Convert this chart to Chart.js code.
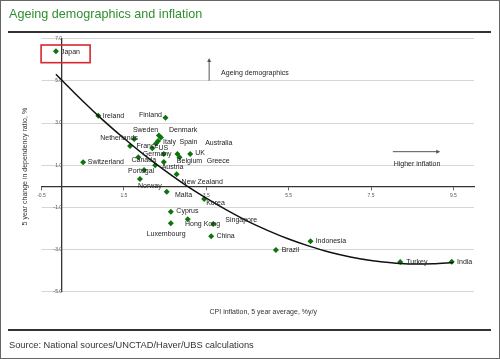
<!DOCTYPE html>
<html><head><meta charset="utf-8">
<script src="https://cdn.jsdelivr.net/npm/chart.js@4.4.1/dist/chart.umd.min.js"></script>
<style>
html,body{margin:0;padding:0;background:#fff;}
#wrap{position:relative;width:500px;height:359px;overflow:hidden;font-family:"Liberation Sans",Arial,sans-serif;}
#c{position:absolute;left:0;top:0;}
#title{position:absolute;left:9px;top:7.6px;font-size:12.6px;line-height:12.6px;color:#2f8f2f;white-space:nowrap;}
.rule{position:absolute;left:8px;width:483px;height:2px;background:#333;}
#source{position:absolute;left:9px;top:340.5px;font-size:9.3px;line-height:9.3px;color:#333;white-space:nowrap;}
#frame{position:absolute;left:0;top:0;width:500px;height:359px;box-sizing:border-box;border:1px solid #666;pointer-events:none;}
</style></head>
<body>
<div id="wrap">
<canvas id="c" width="500" height="359"></canvas>
<div id="title">Ageing demographics and inflation</div>
<div class="rule" style="top:30.7px"></div>
<div class="rule" style="top:328.7px"></div>
<div id="source">Source: National sources/UNCTAD/Haver/UBS calculations</div>
<div id="frame"></div>
</div>
<script>
// ---- data ----
const countries = ["Japan","Ireland","Finland","Sweden","Denmark","Italy","Spain","Netherlands","France","US",
  "Germany","Canada","Austria","Belgium","Australia","UK","Greece","Switzerland","Portugal","Norway",
  "New Zealand","Malta","Korea","Cyprus","Hong Kong","Luxembourg","Singapore","China","Brazil","Indonesia","Turkey","India"];
const cpiInflation = [-0.15,0.88,2.51,2.35,2.40,2.33,2.28,1.75,1.65,2.19,
  2.47,1.85,2.26,2.47,2.80,3.11,2.85,0.51,1.99,1.89,
  2.78,2.54,3.45,2.64,3.05,2.64,3.67,3.62,5.19,6.03,8.21,9.46];
const dependencyChange = [6.41,3.35,3.25,2.41,2.31,2.15,2.03,2.24,1.91,1.80,
  1.53,1.37,0.99,1.15,1.53,1.53,1.37,1.14,0.77,0.34,
  0.57,-0.26,-0.61,-1.21,-1.57,-1.76,-1.80,-2.38,-3.03,-2.62,-3.60,-3.59];
const trendX = [-0.15,0.5,1,1.5,2,2.5,3,3.5,4,4.5,5,5.5,6,6.5,7,7.5,8,8.5,9,9.5];
const trendY = [5.32,4.05,3.13,2.28,1.48,0.74,0.05,-0.57,-1.14,-1.66,-2.11,-2.51,-2.85,-3.14,-3.36,-3.53,-3.64,-3.70,-3.69,-3.63];
const xTicks = [-0.5,1.5,3.5,5.5,7.5,9.5];
const yTicks = [-5,-3,-1,1,3,5,7];
const xTitle = "CPI inflation, 5 year average, %y/y";
const yTitle = "5 year change in dependency ratio, %";
const noteUp = "Ageing demographics";
const noteRight = "Higher inflation";

// ---- label placement (pixel offsets from marker) ----
const labelOffsets = [[5,0.7],[4.5,0.3],[-26.5,-2.7],[-26,-5.5],[8,-7.5],[5,0.7],[23.5,-1.8],[-34,-0.5],[6.5,0],[6.2,0.2],
  [-21,0],[-6.8,2.7],[6.5,2.2],[13,-0.5],[27.7,-10.5],[5,-0.5],[27.2,3.2],[4.7,-0.3],[-16,1],[-2,7.5],
  [5,8.3],[8.3,3.8],[2,4],[5.5,-0.2],[-2.7,4.7],[-24.2,10.7],[12,-4],[5.2,0.2],[5.8,0.5],[5.2,0],[6,0.3],[5.3,0.6]];

const FONT = '"Liberation Sans", Arial, sans-serif';

const extras = {
  id:'extras',
  afterDatasetsDraw(chart){
    const {ctx, chartArea:a, scales:{x,y}} = chart;
    ctx.save();
    // country labels
    ctx.font = '7px ' + FONT;
    ctx.fillStyle = '#222';
    ctx.textBaseline = 'middle';
    ctx.textAlign = 'left';
    const meta = chart.getDatasetMeta(1);
    meta.data.forEach((pt,i)=>{
      const o = labelOffsets[i];
      ctx.fillText(countries[i], pt.x + o[0], pt.y + o[1]);
    });
    // Japan red box
    ctx.strokeStyle = '#d8262e';
    ctx.lineWidth = 1.6;
    const bx1 = x.getPixelForValue(-0.51), bx2 = x.getPixelForValue(0.68);
    const by1 = y.getPixelForValue(6.71), by2 = y.getPixelForValue(5.87);
    ctx.strokeRect(bx1, by1, bx2-bx1, by2-by1);
    // annotations
    ctx.strokeStyle = '#555'; ctx.fillStyle = '#555'; ctx.lineWidth = 1;
    const ax = x.getPixelForValue(3.57), ay1 = y.getPixelForValue(5.01), ay2 = y.getPixelForValue(6.09);
    ctx.beginPath(); ctx.moveTo(ax, ay1); ctx.lineTo(ax, ay2+3); ctx.stroke();
    ctx.beginPath(); ctx.moveTo(ax, ay2); ctx.lineTo(ax-2, ay2+4); ctx.lineTo(ax+2, ay2+4); ctx.closePath(); ctx.fill();
    const hy = y.getPixelForValue(1.64), hx1 = x.getPixelForValue(8.03), hx2 = x.getPixelForValue(9.18);
    ctx.beginPath(); ctx.moveTo(hx1, hy); ctx.lineTo(hx2-3, hy); ctx.stroke();
    ctx.beginPath(); ctx.moveTo(hx2, hy); ctx.lineTo(hx2-4, hy-2); ctx.lineTo(hx2-4, hy+2); ctx.closePath(); ctx.fill();
    ctx.fillStyle = '#222';
    ctx.fillText(noteUp, x.getPixelForValue(3.86), y.getPixelForValue(5.36));
    ctx.fillText(noteRight, x.getPixelForValue(8.05), y.getPixelForValue(1.05));
    // axis titles
    ctx.fillStyle = '#333';
    ctx.textAlign = 'center';
    ctx.fillText(xTitle, (a.left + a.right)/2 + 5.5, a.bottom + 20.5);
    ctx.translate(25, (a.top + a.bottom)/2 + 1.5);
    ctx.rotate(-Math.PI/2);
    ctx.fillText(yTitle, 0, 0);
    ctx.restore();
  }
};

new Chart(document.getElementById('c'), {
  type: 'scatter',
  data: {
    datasets: [
      {
        type: 'line',
        data: trendX.map((v,i)=>({x:v, y:trendY[i]})),
        borderColor: '#111',
        borderWidth: 1.5,
        pointRadius: 0,
        fill: false,
        cubicInterpolationMode: 'monotone'
      },
      {
        data: cpiInflation.map((v,i)=>({x:v, y:dependencyChange[i]})),
        pointStyle: 'rectRot',
        pointRadius: 3,
        backgroundColor: '#0d730d',
        borderColor: '#0d730d',
        borderWidth: 0
      }
    ]
  },
  options: {
    responsive: false,
    animation: false,
    devicePixelRatio: 1,
    layout: { padding: { left: 41.5, right: 26, top: 38.9, bottom: 67.6 } },
    plugins: { legend: { display: false }, tooltip: { enabled: false } },
    scales: {
      x: {
        type: 'linear', min: -0.5, max: 10, position: { y: 0 },
        afterBuildTicks: s => { s.ticks = xTicks.map(v => ({ value: v })); },
        grid: { display: true, drawOnChartArea: false, drawTicks: true, tickLength: 3, color: '#666' },
        border: { display: true, color: '#333', width: 1.3 },
        ticks: { font: { size: 5, family: FONT }, color: '#555', padding: 3, maxRotation: 0,
          callback: v => Number(v).toFixed(1) }
      },
      y: {
        type: 'linear', min: -5, max: 7, position: { x: 0 },
        afterBuildTicks: s => { s.ticks = yTicks.map(v => ({ value: v })); },
        grid: { display: true, drawOnChartArea: true, drawTicks: true, tickLength: 4, color: '#d6d6d6', lineWidth: 1 },
        border: { display: true, color: '#333', width: 1.3 },
        ticks: { font: { size: 5, family: FONT }, color: '#555', padding: 7.5,
          callback: v => Number(v).toFixed(1) }
      }
    }
  },
  plugins: [extras]
});
</script>
</body></html>
